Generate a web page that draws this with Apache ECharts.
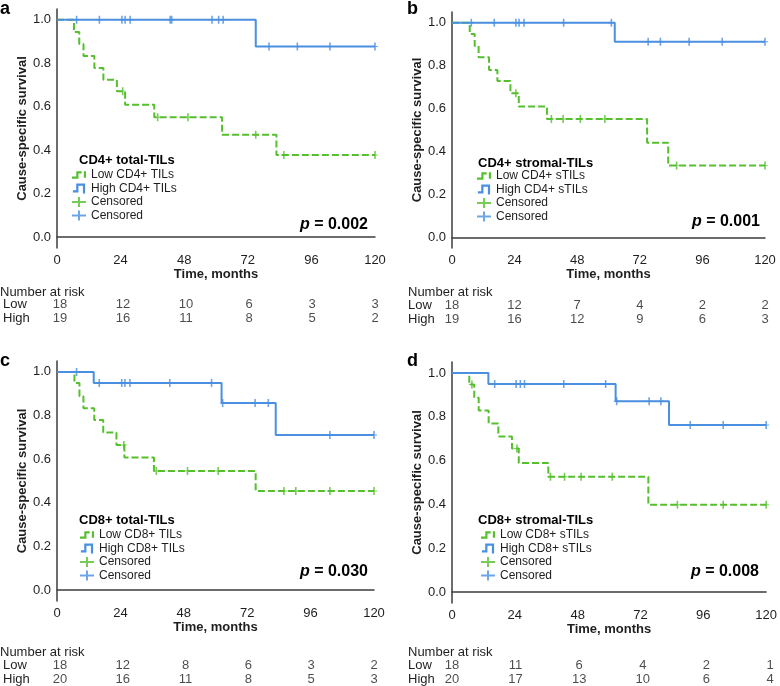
<!DOCTYPE html>
<html>
<head>
<meta charset="utf-8">
<script src="https://cdn.jsdelivr.net/npm/echarts@6/dist/echarts.min.js"></script>
<style>
  html, body { margin: 0; padding: 0; background: #fff; }
  #main { width: 780px; height: 686px; }
</style>
</head>
<body>
<div id="main"></div>
<script>
// time ticks used for axis and number-at-risk table
var months = [0, 24, 48, 72, 96, 120];
var survTicks = [0, 0.2, 0.4, 0.6, 0.8, 1.0];

// a: CD4+ total-TILs
var aLowSteps = [[0,1],[6.4,0.944],[8.4,0.889],[10,0.834],[14.1,0.778],[17.5,0.724],[22.6,0.672],[25.7,0.609],[36.7,0.552],[62.3,0.471],[82.8,0.378],[120,0.378]];
var aLowCens = [[24.8,0.672],[38,0.552],[49.4,0.552],[75,0.471],[85.6,0.378],[120,0.378]];
var aHighSteps = [[0,1],[75,0.877],[120,0.877]];
var aHighCens = [[7.4,1],[16,1],[24.5,1],[25.7,1],[27.6,1],[42.7,1],[43.3,1],[58.5,1],[61,1],[62.7,1],[80,0.877],[90.7,0.877],[103,0.877],[120,0.877]];
var aRiskLow = [18, 12, 10, 6, 3, 3];
var aRiskHigh = [19, 16, 11, 8, 5, 2];

// b: CD4+ stromal-TILs
var bLowSteps = [[0,1],[6.8,0.948],[8.7,0.891],[10.2,0.839],[14.2,0.78],[17.4,0.728],[22.4,0.671],[25.6,0.609],[36.4,0.551],[74.8,0.441],[82.9,0.334],[120,0.334]];
var bLowCens = [[24.5,0.671],[38.1,0.551],[42.6,0.551],[49.2,0.551],[58.6,0.551],[86.1,0.334],[120,0.334]];
var bHighSteps = [[0,1],[62.4,0.911],[120,0.911]];
var bHighCens = [[7.4,1],[16.2,1],[24.5,1],[25.7,1],[27.6,1],[42.8,1],[61.1,1],[75.2,0.911],[79.9,0.911],[90.9,0.911],[103.6,0.911],[120,0.911]];
var bRiskLow = [18, 12, 7, 4, 2, 2];
var bRiskHigh = [19, 16, 12, 9, 6, 3];

// c: CD8+ total-TILs
var cLowSteps = [[0,1],[6.6,0.949],[8.5,0.889],[10,0.834],[14.1,0.78],[17.5,0.722],[22.5,0.665],[25.5,0.608],[36.7,0.546],[75.2,0.454],[120,0.454]];
var cLowCens = [[25.3,0.665],[37.6,0.546],[49.4,0.546],[61,0.546],[85.9,0.454],[90.4,0.454],[103.3,0.454],[120,0.454]];
var cHighSteps = [[0,1],[13.9,0.949],[62.3,0.857],[82.8,0.711],[120,0.711]];
var cHighCens = [[7.4,1],[16,0.949],[24.5,0.949],[25.7,0.949],[27.6,0.949],[42.7,0.949],[58.5,0.949],[62.7,0.857],[75,0.857],[80,0.857],[103.3,0.711],[120,0.711]];
var cRiskLow = [18, 12, 8, 6, 3, 2];
var cRiskHigh = [20, 16, 11, 8, 5, 3];

// d: CD8+ stromal-TILs
var dLowSteps = [[0,1],[6.6,0.947],[8.5,0.887],[10.2,0.829],[14,0.769],[17.7,0.71],[22.9,0.655],[25.5,0.589],[36.8,0.526],[75,0.398],[120,0.398]];
var dLowCens = [[7.6,0.947],[24.8,0.655],[37.6,0.526],[43,0.526],[49.3,0.526],[61.2,0.526],[86.1,0.398],[103.6,0.398],[120,0.398]];
var dHighSteps = [[0,1],[13.9,0.95],[62.5,0.871],[82.9,0.762],[120,0.762]];
var dHighCens = [[16.3,0.95],[24.5,0.95],[26.1,0.95],[27.7,0.95],[42.7,0.95],[58.7,0.95],[62.9,0.871],[75.3,0.871],[79.8,0.871],[91,0.762],[103.6,0.762],[120,0.762]];
var dRiskLow = [18, 11, 6, 4, 2, 1];
var dRiskHigh = [20, 17, 13, 10, 6, 4];

var GREEN = '#55bf2e';
var BLUE = '#4a8fe0';
var AXIS = '#3c3c3c';
var TEXT = '#1e1e1e';
var FONT = '"Liberation Sans", Arial, Helvetica, sans-serif';

var plusPath = 'path://M-0.12,-1H0.12V-0.12H0.45V0.12H0.12V1H-0.12V0.12H-0.45V-0.12H-0.12Z';
var iconLow = 'path://M0,7H4V2H9V4H6V9H0Z M11,2H13V8H11Z';
var iconHigh = 'path://M0,7H3V1H11V10H9V3H5V9H0Z';
var iconPlus = 'path://M0,4H6V0H8V4H14V6H8V10H6V6H0Z';

var panels = [
  { letter: 'a', heading: 'CD4+ total-TILs', low: 'Low CD4+ TILs', high: 'High CD4+ TILs', p: '0.002',
    lowSteps: aLowSteps, lowCens: aLowCens, highSteps: aHighSteps, highCens: aHighCens, riskLow: aRiskLow, riskHigh: aRiskHigh,
    grid: { left: 57, top: 9, width: 318, height: 239 }, risk: { top: 298, height: 27, margin: 57 },
    letterPos: [0, 0], headPos: [79, 153], legPos: [72, 169], pPos: [412, 216], narPos: [0, 285] },
  { letter: 'b', heading: 'CD4+ stromal-TILs', low: 'Low CD4+ sTILs', high: 'High CD4+ sTILs', p: '0.001',
    lowSteps: bLowSteps, lowCens: bLowCens, highSteps: bHighSteps, highCens: bHighCens, riskLow: bRiskLow, riskHigh: bRiskHigh,
    grid: { left: 452, top: 12, width: 313, height: 236 }, risk: { top: 298, height: 28, margin: 44 },
    letterPos: [407, 0], headPos: [478, 156], legPos: [477, 170], pPos: [20, 213], narPos: [408, 285] },
  { letter: 'c', heading: 'CD8+ total-TILs', low: 'Low CD8+ TILs', high: 'High CD8+ TILs', p: '0.030',
    lowSteps: cLowSteps, lowCens: cLowCens, highSteps: cHighSteps, highCens: cHighCens, riskLow: cRiskLow, riskHigh: cRiskHigh,
    grid: { left: 57, top: 361, width: 317, height: 240 }, risk: { top: 658, height: 28, margin: 57 },
    letterPos: [0, 352], headPos: [79, 513], legPos: [80, 529], pPos: [412, 563], narPos: [0, 645] },
  { letter: 'd', heading: 'CD8+ stromal-TILs', low: 'Low CD8+ sTILs', high: 'High CD8+ sTILs', p: '0.008',
    lowSteps: dLowSteps, lowCens: dLowCens, highSteps: dHighSteps, highCens: dHighCens, riskLow: dRiskLow, riskHigh: dRiskHigh,
    grid: { left: 452, top: 362, width: 318, height: 241 }, risk: { top: 658, height: 28, margin: 44 },
    letterPos: [407, 352], headPos: [478, 513], legPos: [481, 529], pPos: [21, 563], narPos: [408, 645] }
];

var grids = [], xAxes = [], yAxes = [], series = [], legends = [], titles = [];

panels.forEach(function (pn, i) {
  var g = i * 2, r = i * 2 + 1;
  grids.push(pn.grid);
  grids.push({ left: pn.grid.left, width: pn.grid.width, top: pn.risk.top, height: pn.risk.height });

  xAxes.push({
    gridIndex: g, type: 'value', min: 0, max: 120, interval: 24,
    axisLine: { lineStyle: { color: AXIS, width: 1.5 } },
    axisTick: { show: false }, splitLine: { show: false },
    axisLabel: { color: TEXT, fontSize: 13, margin: 6, fontFamily: FONT },
    name: 'Time, months', nameLocation: 'middle', nameGap: 20,
    nameTextStyle: { color: TEXT, fontSize: 13, fontWeight: 'bold', fontFamily: FONT }
  });
  xAxes.push({ gridIndex: r, type: 'value', min: 0, max: 120, show: false });

  yAxes.push({
    gridIndex: g, type: 'value', min: -0.05, max: 1.05,
    axisLine: { show: true, lineStyle: { color: AXIS, width: 1.5 } },
    axisTick: { show: false }, splitLine: { show: false },
    axisLabel: { color: TEXT, fontSize: 13, margin: 6, fontFamily: FONT, customValues: survTicks,
      formatter: function (v) { return v.toFixed(1); } },
    name: 'Cause-specific survival', nameLocation: 'middle', nameGap: 27,
    nameTextStyle: { color: TEXT, fontSize: 13, fontWeight: 'bold', fontFamily: FONT }
  });
  yAxes.push({
    gridIndex: r, type: 'category', data: ['Low', 'High'], inverse: true,
    axisLine: { show: false }, axisTick: { show: false },
    axisLabel: { interval: 0, hideOverlap: false, align: 'left', margin: pn.risk.margin, color: TEXT, fontSize: 13, fontFamily: FONT }
  });

  series.push({
    name: pn.low, type: 'line', step: 'end', xAxisIndex: g, yAxisIndex: g,
    data: pn.lowSteps, showSymbol: false, symbol: 'none',
    lineStyle: { color: GREEN, width: 2, type: [7, 3] }, itemStyle: { color: GREEN }, z: 3
  });
  series.push({
    name: pn.high, type: 'line', step: 'end', xAxisIndex: g, yAxisIndex: g,
    data: pn.highSteps, showSymbol: false, symbol: 'none',
    lineStyle: { color: BLUE, width: 2 }, itemStyle: { color: BLUE }, z: 4
  });
  series.push({
    name: 'Censored', type: 'scatter', xAxisIndex: g, yAxisIndex: g, clip: false,
    data: pn.lowCens, symbol: plusPath, symbolSize: [6, 8], itemStyle: { color: GREEN }, z: 5
  });
  series.push({
    name: 'Censored ', type: 'scatter', xAxisIndex: g, yAxisIndex: g, clip: false,
    data: pn.highCens, symbol: plusPath, symbolSize: [6, 8], itemStyle: { color: BLUE }, z: 5
  });

  // number at risk rows
  series.push({
    type: 'scatter', xAxisIndex: r, yAxisIndex: r, symbolSize: 1, clip: false,
    itemStyle: { color: 'transparent' }, silent: true,
    data: months.map(function (m, k) { return [m, 'Low', pn.riskLow[k]]; })
      .concat(months.map(function (m, k) { return [m, 'High', pn.riskHigh[k]]; })),
    label: { show: true, position: 'inside', color: TEXT, fontSize: 13, fontFamily: FONT,
      formatter: function (p) { return p.value[2]; } }
  });

  legends.push({
    orient: 'vertical', left: pn.legPos[0], top: pn.legPos[1], padding: 0,
    itemWidth: 14, itemHeight: 10, itemGap: 1.5, selectedMode: false,
    textStyle: { color: TEXT, fontSize: 12, lineHeight: 11, fontFamily: FONT, padding: [0, 0, 0, 0] },
    data: [
      { name: pn.low, icon: iconLow, itemStyle: { color: GREEN, borderWidth: 0 }, lineStyle: { width: 0 } },
      { name: pn.high, icon: iconHigh, itemStyle: { color: BLUE, borderWidth: 0 }, lineStyle: { width: 0 } },
      { name: 'Censored', icon: iconPlus, itemStyle: { color: GREEN, borderWidth: 0 } },
      { name: 'Censored ', icon: iconPlus, itemStyle: { color: BLUE, borderWidth: 0 } }
    ]
  });

  titles.push({ text: pn.letter, left: pn.letterPos[0], top: pn.letterPos[1], padding: 0,
    textStyle: { fontSize: 18, fontWeight: 'bold', color: '#000', fontFamily: FONT, lineHeight: 18 } });
  titles.push({ text: pn.heading, left: pn.headPos[0], top: pn.headPos[1], padding: 0,
    textStyle: { fontSize: 13, fontWeight: 'bold', color: '#000', fontFamily: FONT, lineHeight: 14 } });
  titles.push({ text: '{i|p} = ' + pn.p, right: pn.pPos[0], top: pn.pPos[1], padding: 0,
    textStyle: { fontSize: 16, fontWeight: 'bold', color: '#000', fontFamily: FONT, lineHeight: 18,
      rich: { i: { fontSize: 16, fontWeight: 'bold', fontStyle: 'italic', color: '#000', fontFamily: FONT } } } });
  titles.push({ text: 'Number at risk', left: pn.narPos[0], top: pn.narPos[1], padding: 0,
    textStyle: { fontSize: 13, fontWeight: 'normal', color: TEXT, fontFamily: FONT, lineHeight: 14 } });
});

var chart = echarts.init(document.getElementById('main'), null, { renderer: 'canvas' });
chart.setOption({
  animation: false,
  backgroundColor: '#fff',
  textStyle: { fontFamily: FONT },
  title: titles,
  legend: legends,
  grid: grids,
  xAxis: xAxes,
  yAxis: yAxes,
  series: series
});
</script>
</body>
</html>
